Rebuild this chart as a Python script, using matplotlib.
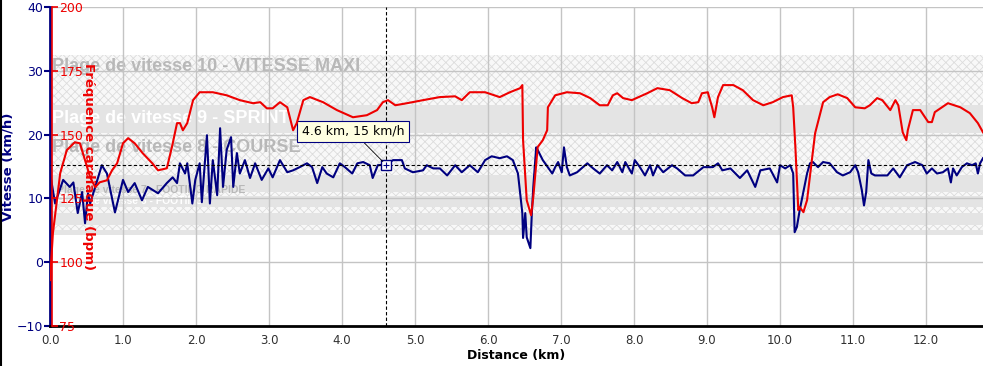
import matplotlib
matplotlib.use("Agg")
import matplotlib.pyplot as plt
from matplotlib.lines import Line2D

# --- data ------------------------------------------------------------------
dist_speed = [0.0, 0.01, 0.07, 0.18, 0.27, 0.32, 0.38, 0.44, 0.48, 0.52, 0.55, 0.62, 0.71, 0.78,
              0.89, 1.0, 1.07, 1.16, 1.26, 1.34, 1.48, 1.60, 1.68, 1.74, 1.78, 1.85, 1.88, 1.95,
              1.99, 2.05, 2.08, 2.15, 2.19, 2.23, 2.29, 2.33, 2.37, 2.42, 2.48, 2.51, 2.56, 2.60,
              2.67, 2.74, 2.81, 2.90, 2.99, 3.05, 3.15, 3.25, 3.33, 3.42, 3.52, 3.59, 3.66, 3.73,
              3.79, 3.88, 3.97, 4.04, 4.14, 4.21, 4.29, 4.38, 4.42, 4.49, 4.60, 4.70, 4.82, 4.86,
              4.97, 5.11, 5.16, 5.25, 5.34, 5.44, 5.55, 5.64, 5.75, 5.86, 5.96, 6.05, 6.16, 6.26,
              6.34, 6.41, 6.47, 6.48, 6.51, 6.53, 6.58, 6.60, 6.62, 6.66, 6.68, 6.75, 6.88, 6.92,
              6.96, 7.01, 7.04, 7.08, 7.12, 7.22, 7.36, 7.44, 7.53, 7.63, 7.70, 7.77, 7.84, 7.88,
              7.97, 8.01, 8.08, 8.15, 8.22, 8.26, 8.32, 8.40, 8.52, 8.59, 8.70, 8.81, 8.95, 9.08,
              9.15, 9.21, 9.32, 9.45, 9.55, 9.66, 9.73, 9.86, 9.96, 10.0, 10.07, 10.14, 10.18,
              10.20, 10.23, 10.27, 10.37, 10.41, 10.45, 10.52, 10.59, 10.68, 10.78, 10.86, 10.96,
              11.03, 11.07, 11.12, 11.15, 11.18, 11.21, 11.25, 11.30, 11.47, 11.55, 11.64, 11.74,
              11.85, 11.95, 12.01, 12.08, 12.15, 12.23, 12.30, 12.34, 12.37, 12.42, 12.49, 12.56,
              12.63, 12.68, 12.71, 12.74, 12.78]
speed = [0.0, 13.3, 9.2, 12.9, 11.8, 12.5, 7.7, 11.0, 6.1, 10.8, 9.2, 11.8, 15.2, 13.9,
         7.8, 12.9, 11.0, 12.4, 9.7, 11.8, 10.8, 12.4, 13.3, 12.4, 15.5, 13.9, 15.5, 9.2,
         12.9, 15.5, 9.4, 19.9, 9.2, 16.0, 10.5, 21.0, 11.8, 17.6, 19.6, 11.8, 17.1, 13.9,
         16.0, 13.2, 15.5, 12.9, 14.7, 13.3, 16.0, 14.1, 14.4, 14.9, 15.5, 14.9, 12.4, 14.9,
         13.9, 13.3, 15.5, 14.9, 13.9, 15.5, 15.7, 15.2, 13.2, 15.2, 15.3, 16.0, 16.0, 14.7,
         14.1, 14.4, 15.2, 14.7, 14.7, 13.6, 15.2, 14.1, 15.2, 14.1, 16.0, 16.6, 16.3, 16.6,
         16.0, 13.9, 7.7, 3.8, 7.7, 3.9, 2.2, 7.7, 11.8, 18.0, 17.6, 16.0, 13.9, 14.9,
         15.7, 14.1, 18.0, 14.9, 13.6, 14.1, 15.5, 14.7, 13.9, 15.2, 14.4, 15.7, 14.1, 15.7,
         13.9, 16.0, 14.9, 13.6, 15.2, 13.6, 15.2, 14.1, 15.2, 14.7, 13.6, 13.6, 14.9, 14.9,
         15.5, 14.4, 14.7, 13.2, 14.4, 11.8, 14.4, 14.7, 12.5, 15.2, 14.7, 15.2, 13.9,
         4.7, 5.5, 8.2, 13.9, 15.5, 15.7, 14.9, 15.7, 15.5, 14.1, 13.6, 14.1,
         15.2, 14.1, 11.3, 8.9, 11.0, 16.0, 13.9, 13.6, 13.6, 14.7, 13.3, 15.2,
         15.7, 15.2, 13.9, 14.7, 13.9, 14.1, 14.7, 12.5, 14.7, 13.6, 14.9, 15.5,
         15.2, 15.5, 13.9, 15.5, 16.3]

dist_hr = [0.0, 0.04, 0.14, 0.23, 0.34, 0.41, 0.48, 0.55, 0.62, 0.68, 0.78, 0.85, 0.92, 1.0,
           1.07, 1.16, 1.27, 1.40, 1.48, 1.60, 1.67, 1.74, 1.78, 1.82, 1.88, 1.96, 2.05, 2.23,
           2.42, 2.60, 2.78, 2.88, 2.97, 3.05, 3.15, 3.25, 3.33, 3.38, 3.47, 3.56, 3.74, 3.93,
           4.15, 4.34, 4.48, 4.56, 4.63, 4.73, 4.89, 5.11, 5.34, 5.55, 5.64, 5.75, 5.96, 6.16,
           6.30, 6.44, 6.47, 6.48, 6.53, 6.59, 6.62, 6.68, 6.75, 6.81, 6.82, 6.92, 7.08, 7.26,
           7.40, 7.53, 7.64, 7.71, 7.77, 7.85, 7.97, 8.18, 8.32, 8.49, 8.66, 8.79, 8.88, 8.93,
           9.01, 9.07, 9.10, 9.15, 9.22, 9.36, 9.49, 9.63, 9.77, 9.90, 10.04, 10.16, 10.18,
           10.21, 10.25, 10.27, 10.32, 10.37, 10.44, 10.48, 10.59, 10.68, 10.79, 10.92, 11.03,
           11.16, 11.23, 11.33, 11.40, 11.51, 11.58, 11.62, 11.68, 11.73, 11.75, 11.82, 11.92,
           12.03, 12.08, 12.12, 12.30, 12.47, 12.60, 12.71, 12.78]
hr = [93.0, 111.4, 134.9, 143.9, 147.0, 146.6, 140.0, 133.3, 129.4, 131.3, 132.1, 136.0, 138.8, 146.6,
      148.6, 146.6, 142.7, 138.8, 136.0, 136.8, 145.1, 154.5, 154.5, 151.7, 154.5, 163.5, 166.6, 166.6,
      165.4, 163.5, 162.3, 162.7, 160.3, 160.3, 162.7, 160.7, 151.7, 154.5, 163.5, 164.7, 162.7, 159.6,
      156.8, 157.6, 159.6, 162.7, 163.5, 161.5, 162.3, 163.5, 164.7, 165.0, 163.5, 166.6, 166.6, 164.7,
      166.6, 168.2, 169.4, 147.8, 124.3, 118.4, 125.5, 145.1, 147.8, 151.7, 160.7, 165.4, 166.6, 166.2,
      164.3, 161.5, 161.5, 165.4, 166.2, 164.3, 163.5, 166.2, 168.2, 167.4, 164.3, 162.3, 162.7, 166.2,
      166.6, 160.7, 156.8, 164.7, 169.4, 169.4, 167.4, 163.5, 161.5, 162.7, 164.7, 165.4, 160.7,
      145.1, 120.4, 121.6, 119.6, 124.3, 141.1, 150.5, 162.7, 164.7, 165.8, 164.3, 160.7,
      160.3, 161.5, 164.3, 163.5, 159.6, 163.5, 161.5, 150.9, 147.8, 151.7, 159.6, 159.6,
      154.9, 154.9, 158.8, 162.3, 160.7, 158.4, 154.5, 150.9]

# speed zones (km/h), from top to bottom
zone_low = [24.6, 20.2, 13.6, 11.0, 10.3, 8.6, 7.7, 5.8, 5.0, 4.2]
zone_high = [32.4, 24.6, 20.2, 13.6, 11.0, 10.3, 8.6, 7.7, 5.8, 5.0]
zone_names = ["Plage de vitesse 10 - VITESSE MAXI", "Plage de vitesse 9 - SPRINT",
              "Plage de vitesse 8 - COURSE", "Plage de vitesse 7 - FOOTING RAPIDE",
              "Plage de vitesse 6 - FOOTING"]
zone_label_y = [30.6, 22.6, 17.9, 11.3, 9.6]

cursor_km = 4.6
cursor_speed = 15.3
x_ticks = list(range(0, 13))

NAVY = "#000080"
RED = "#ee0000"

plt.rcParams["hatch.linewidth"] = 0.6

fig = plt.figure(figsize=(9.83, 3.66), dpi=100)
ax = fig.add_axes([50 / 983, 40 / 366, 933 / 983, 319 / 366])
ax.set_xlim(0, 12.78)
ax.set_ylim(-10, 40)

for i, (lo, hi) in enumerate(zip(zone_low, zone_high)):
    if i % 2 == 0:
        ax.axhspan(lo, hi, facecolor="#f8f8f8", edgecolor="#dcdcdc", hatch="xxxx", lw=0, zorder=0.5)
    else:
        ax.axhspan(lo, hi, facecolor="#e4e4e4", edgecolor="none", lw=0, zorder=0.5)

big = dict(fontfamily="Liberation Sans", fontweight="bold", fontsize=13, va="center", ha="left", zorder=1)
small = dict(fontfamily="Liberation Sans", fontweight="bold", fontsize=7.5, va="center", ha="left", zorder=1)
ax.text(0.03, zone_label_y[0], zone_names[0], color="#b8b8b8", **big)
ax.text(0.03, zone_label_y[1], zone_names[1], color="white", **big)
ax.text(0.03, zone_label_y[2], zone_names[2], color="#b8b8b8", **big)
ax.text(0.1, zone_label_y[3], zone_names[3], color="#b8b8b8", **small)
ax.text(0.1, zone_label_y[4], zone_names[4], color="white", **small)

ax.set_axisbelow("line")
ax.set_xticks(x_ticks)
ax.set_xticklabels(["%.1f" % t for t in x_ticks])
ax.set_yticks([-10, 0, 10, 20, 30, 40])
ax.grid(True, color="#c4c4c4", lw=1)

ax.plot(dist_speed, speed, color=NAVY, lw=1.5, zorder=3)

# cursor
ax.axhline(cursor_speed, color="black", ls=(0, (3, 2)), lw=0.8, zorder=4)
ax.axvline(cursor_km, color="black", ls=(0, (3, 2)), lw=0.8, zorder=4)
ax.plot([cursor_km], [cursor_speed], marker="s", ms=7, mfc="white", mec=NAVY, mew=1, zorder=6)
ax.plot([cursor_km], [cursor_speed], marker="+", ms=5, mec=NAVY, mew=0.8, zorder=7)
ax.annotate("4.6 km, 15 km/h", xy=(cursor_km, cursor_speed), xytext=(4.15, 20.5),
            ha="center", va="center", fontsize=9, zorder=8,
            bbox=dict(boxstyle="square,pad=0.35", fc="#ffffe1", ec=NAVY, lw=0.8),
            arrowprops=dict(arrowstyle="-", color="black", lw=0.6, shrinkA=0, shrinkB=3))

for s in ["top", "right"]:
    ax.spines[s].set_visible(False)
ax.spines["left"].set_color(NAVY)
ax.spines["left"].set_linewidth(2)
ax.spines["bottom"].set_color("black")
ax.spines["bottom"].set_linewidth(2)
ax.tick_params(axis="y", colors=NAVY, direction="out", length=4, width=1.5, labelsize=9, pad=1)
ax.tick_params(axis="x", length=0, labelsize=8.5, labelcolor="#303030", pad=6)
ax.set_xlabel("Distance (km)", fontsize=9, fontweight="bold", labelpad=1)
ax.set_ylabel("Vitesse (km/h)", fontsize=9.5, fontweight="bold", color=NAVY)
ax.yaxis.set_label_coords(-0.038, 0.5)

# heart rate on a second scale
ax2 = ax.twinx()
ax2.set_ylim(75, 200)
ax2.set_yticks([75, 100, 125, 150, 175, 200])
ax2.plot(dist_hr, hr, color=RED, lw=1.5, zorder=3)
for s in ["top", "bottom", "left"]:
    ax2.spines[s].set_visible(False)
ax2.spines["right"].set_position(("axes", 0.0025))
ax2.spines["right"].set_color(RED)
ax2.spines["right"].set_linewidth(1.2)
ax2.tick_params(axis="y", colors=RED, direction="out", length=4, width=1.2, labelsize=9, pad=1)
ax2.text(0.041, 0.5, "Fréquence cardiaque (bpm)", transform=ax2.transAxes, rotation=270,
         ha="center", va="center", color=RED, fontsize=9.5, fontweight="bold", zorder=10)

fig.add_artist(Line2D([0.001, 0.001], [0, 1], color="black", lw=1.5, transform=fig.transFigure))

fig.savefig("out.png", dpi=100)
